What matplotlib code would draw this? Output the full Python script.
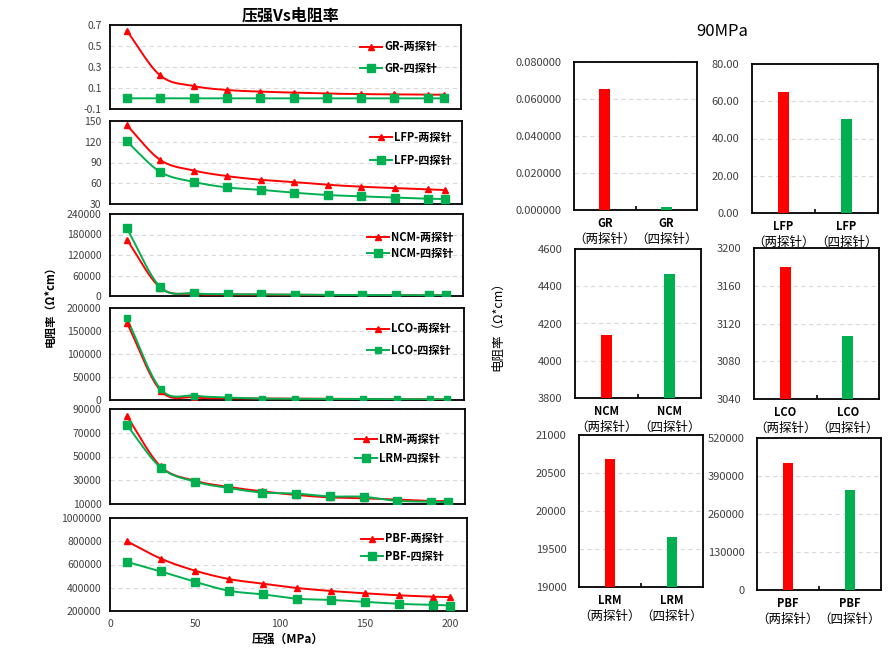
import matplotlib
matplotlib.use('Agg')
import matplotlib.pyplot as plt
import numpy as np
from matplotlib.lines import Line2D

plt.rcParams['font.family'] = ['Noto Sans CJK SC', 'DejaVu Sans']

# 数据：压强(MPa) 与 电阻率(Ω*cm)
pressure = [10, 30, 50, 70, 90, 110, 130, 150, 170, 190, 200]

gr_two = [0.646, 0.22, 0.119, 0.081, 0.0655, 0.056, 0.047, 0.042, 0.039, 0.037, 0.036]
gr_four = [0.0018, 0.0016, 0.0015, 0.0015, 0.0014, 0.0014, 0.0014, 0.0013, 0.0013, 0.0013, 0.0013]
lfp_two = [144, 93.7, 78.4, 70.3, 65.0, 61.7, 57.8, 55.0, 53.0, 51.2, 50.2]
lfp_four = [120.5, 76.4, 62.0, 53.9, 50.5, 46.3, 43.0, 41.0, 39.1, 37.6, 37.2]
ncm_two = [165000, 24000, 6000, 4500, 4139, 3500, 3000, 2600, 2300, 2000, 1900]
ncm_four = [198000, 26000, 8000, 5500, 4464, 3800, 3200, 2800, 2500, 2200, 2100]
lco_two = [168000, 20500, 5800, 3600, 3180, 2700, 2300, 2000, 1800, 1600, 1500]
lco_four = [178000, 24000, 9500, 5500, 3107, 2600, 2200, 1900, 1700, 1500, 1400]
lrm_two = [84000, 41600, 29700, 24350, 20685, 17600, 15600, 14800, 13700, 12500, 12500]
lrm_four = [76400, 40700, 28900, 23500, 19656, 18800, 16400, 16100, 12600, 12000, 11400]
pbf_two = [800000, 650000, 547000, 475000, 435000, 398000, 372000, 352000, 335000, 323000, 320000]
pbf_four = [623000, 540000, 451000, 374000, 342800, 306000, 295000, 278000, 261000, 253000, 247000]

names = ['GR', 'LFP', 'NCM', 'LCO', 'LRM', 'PBF']
two = [gr_two, lfp_two, ncm_two, lco_two, lrm_two, pbf_two]
four = [gr_four, lfp_four, ncm_four, lco_four, lrm_four, pbf_four]

RED = '#FF0000'
GREEN = '#00B050'
W, H = 891, 650


def box(l, t, r, b):
    return [l / W, 1 - b / H, (r - l) / W, (b - t) / H]


def smooth(x, y, n=24):
    # Catmull-Rom 平滑（类似 Excel 平滑线）
    x = np.asarray(x, float)
    y = np.asarray(y, float)
    px = np.concatenate([[2 * x[0] - x[1]], x, [2 * x[-1] - x[-2]]])
    py = np.concatenate([[2 * y[0] - y[1]], y, [2 * y[-1] - y[-2]]])
    xs, ys = [], []
    t = np.linspace(0, 1, n)
    for i in range(1, len(px) - 2):
        p0, p1, p2, p3 = [np.array([px[j], py[j]]) for j in range(i - 1, i + 3)]
        c1 = p1 + (p2 - p0) / 6
        c2 = p2 - (p3 - p1) / 6
        pts = ((1 - t) ** 3)[:, None] * p1 + (3 * (1 - t) ** 2 * t)[:, None] * c1 \
            + (3 * (1 - t) * t ** 2)[:, None] * c2 + (t ** 3)[:, None] * p2
        xs.extend(pts[:, 0])
        ys.extend(pts[:, 1])
    return xs, ys


fig = plt.figure(figsize=(8.91, 6.5), dpi=100)

# 左侧折线图
left_boxes = [(110, 25, 461, 109), (110, 121, 462, 204), (110, 214, 463, 296),
              (110, 308, 464, 400), (110, 409, 465, 504), (110, 518, 467, 611)]
ylims = [(-0.1, 0.7, 0.2), (30, 150, 30), (0, 240000, 60000),
         (0, 200000, 50000), (10000, 90000, 20000), (200000, 1000000, 200000)]
leg_pos = [(360, 47, 68), (370, 138, 160), (367, 238, 253),
           (367, 329, 350), (355, 440, 458), (361, 539, 556)]
ms_two = [5, 5, 4, 4, 5, 4.5]
ms_four = [6, 6, 5.5, 4, 6, 5.5]

for i in range(6):
    l, t, r, b = left_boxes[i]
    ax = fig.add_axes(box(l, t, r, b))
    lo, hi, st = ylims[i]
    sx, sy = smooth(pressure, two[i])
    ax.plot(sx, sy, color=RED, lw=1.4, zorder=3)
    ax.plot(pressure, two[i], ls='none', marker='^', ms=ms_two[i], color=RED, zorder=4)
    sx, sy = smooth(pressure, four[i])
    ax.plot(sx, sy, color=GREEN, lw=1.4, zorder=3)
    ax.plot(pressure, four[i], ls='none', marker='s', ms=ms_four[i], color=GREEN, zorder=4)
    ax.set_xlim(0, 210)
    ax.set_ylim(lo, hi)
    ticks = np.arange(lo, hi + st / 2, st)
    ax.set_yticks(ticks)
    if i == 0:
        ax.set_yticklabels(['%.1f' % v for v in ticks])
    else:
        ax.set_yticklabels(['%d' % v for v in ticks])
    ax.yaxis.grid(True, color='#D9D9D9', ls=(0, (4, 3)), lw=0.8)
    ax.set_axisbelow(True)
    ax.tick_params(axis='y', length=0, pad=6, labelsize=7.5, colors='#404040')
    if i == 5:
        ax.set_xticks([0, 50, 100, 150, 200])
        ax.tick_params(axis='x', length=0, pad=6, labelsize=7.5, colors='#404040')
    else:
        ax.set_xticks([])
    for s in ax.spines.values():
        s.set_linewidth(1.3)
    lx, y1, y2 = leg_pos[i]
    fs = 8
    fpx = fs * 100 / 72
    sp = (y2 - y1 - 1.15 * fpx) / fpx
    handles = [Line2D([], [], color=RED, lw=1.4, marker='^', ms=ms_two[i]),
               Line2D([], [], color=GREEN, lw=1.4, marker='s', ms=ms_four[i])]
    ax.legend(handles, [names[i] + '-两探针', names[i] + '-四探针'],
              loc='center left',
              bbox_to_anchor=((lx - l) / (r - l), 1 - ((y1 + y2) / 2 - t) / (b - t)),
              frameon=False, prop={'weight': 'bold', 'size': fs},
              handlelength=2.0, handletextpad=0.15, borderpad=0, borderaxespad=0,
              labelspacing=max(sp, 0.05))

# 右侧 90MPa 柱状图
idx90 = pressure.index(90)
right_boxes = [(574, 62, 697, 210), (752, 64, 878, 213), (575, 249, 701, 398),
               (754, 248, 879, 399), (579, 435, 703, 587), (757, 438, 881, 590)]
bar_ylims = [(0, 0.08, 0.02, '%.6f'), (0, 80, 20, '%.2f'), (3800, 4600, 200, '%d'),
             (3040, 3200, 40, '%d'), (19000, 21000, 500, '%d'), (0, 520000, 130000, '%d')]

for i in range(6):
    l, t, r, b = right_boxes[i]
    ax = fig.add_axes(box(l, t, r, b))
    lo, hi, st, fmt = bar_ylims[i]
    vals = [two[i][idx90], four[i][idx90]]
    ax.bar([0, 1], [v - lo for v in vals], bottom=lo, width=0.175,
           color=[RED, GREEN], zorder=3)
    ax.set_xlim(-0.5, 1.5)
    ax.set_ylim(lo, hi)
    ticks = np.arange(lo, hi + st / 2, st)
    ax.set_yticks(ticks)
    ax.set_yticklabels([fmt % v for v in ticks])
    ax.yaxis.grid(True, color='#D9D9D9', ls=(0, (4, 3)), lw=0.8)
    ax.set_axisbelow(True)
    ax.tick_params(axis='y', length=0, pad=9, labelsize=8, colors='#404040')
    ax.set_xticks([0.5])
    ax.set_xticklabels([''])
    ax.tick_params(axis='x', direction='in', length=3, width=1.2)
    for s in ax.spines.values():
        s.set_linewidth(1.3)
    for k, lab in enumerate(['（两探针）', '（四探针）']):
        ax.annotate(names[i], xy=(k, 0), xycoords=('data', 'axes fraction'),
                    xytext=(0, -9.5), textcoords='offset points', ha='center', va='center',
                    fontsize=8, fontweight='bold')
        ax.annotate(lab, xy=(k, 0), xycoords=('data', 'axes fraction'),
                    xytext=(0, -21), textcoords='offset points', ha='center', va='center',
                    fontsize=9)

fig.text(291 / W, 1 - 16 / H, '压强Vs电阻率', ha='center', va='center', fontsize=11.5, fontweight='bold')
fig.text(722 / W, 1 - 31 / H, '90MPa', ha='center', va='center', fontsize=12)
fig.text(50 / W, 1 - 304 / H, '电阻率（Ω*cm）', ha='center', va='center', rotation=90,
         fontsize=8, fontweight='bold')
fig.text(498 / W, 1 - 323 / H, '电阻率（Ω*cm）', ha='center', va='center', rotation=90, fontsize=9)
fig.text(288 / W, 1 - 639 / H, '压强（MPa）', ha='center', va='center', fontsize=8.5, fontweight='bold')

fig.savefig('out.png', dpi=100)
